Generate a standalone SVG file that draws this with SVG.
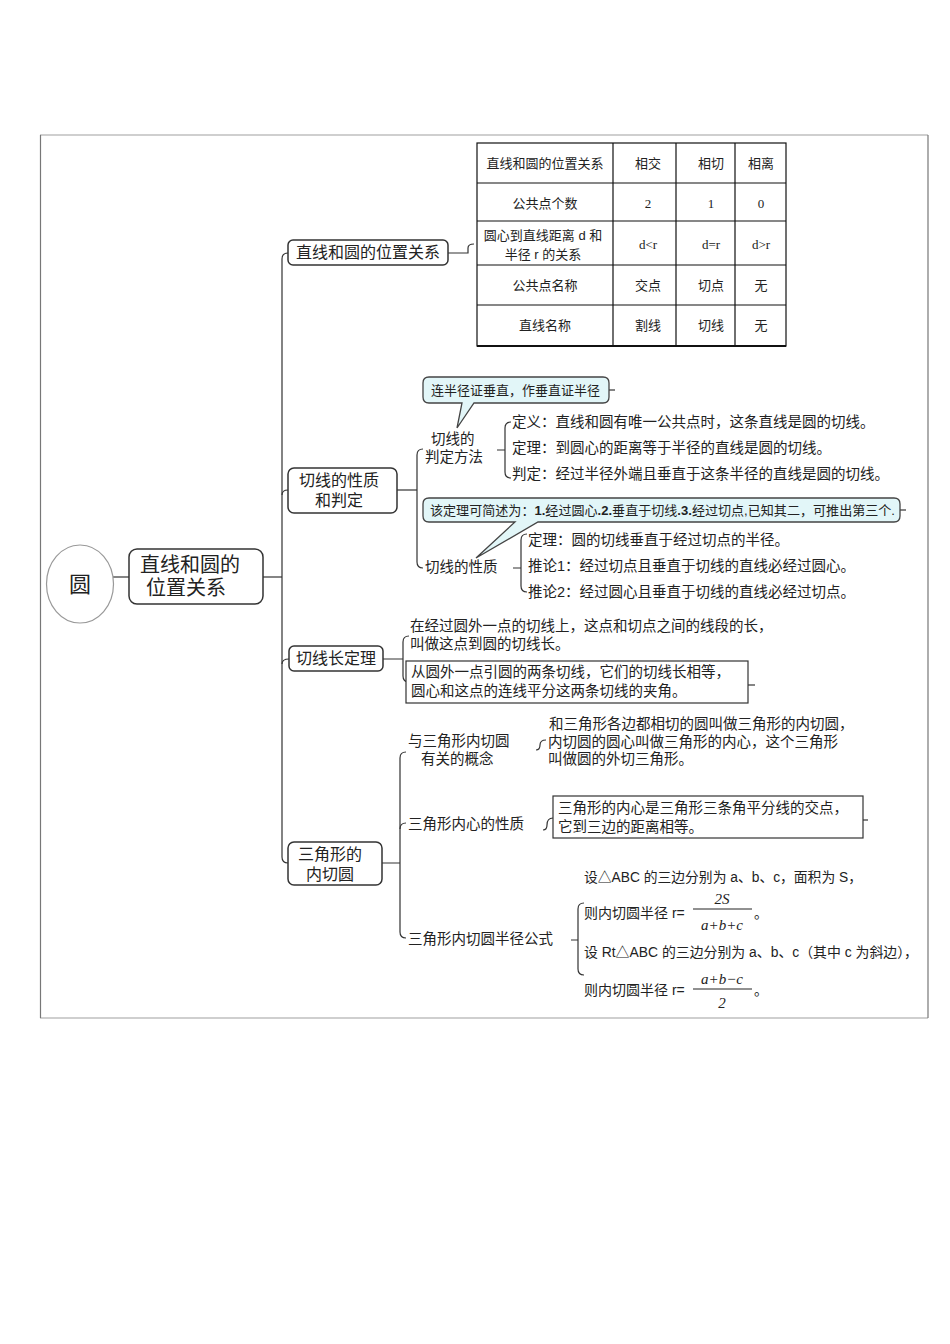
<svg xmlns="http://www.w3.org/2000/svg" width="950" height="1344" viewBox="0 0 950 1344">
<defs>
<style>
text{font-family:"Liberation Sans","Noto Sans CJK SC",sans-serif;fill:#222;}
.t{font-size:14.5px;}
.n{font-size:16px;}
.tb{font-size:13px;}
.tbs{font-size:13px;font-family:"Liberation Serif","Noto Sans CJK SC",serif;}
.f{font-size:14px;}
.fi{font-size:15px;font-family:"Liberation Serif",serif;font-style:italic;}
.box{fill:#fff;stroke:#333;stroke-width:1.5;}
.call{fill:#e2f6f8;stroke:#444;stroke-width:1.3;}
.plain{fill:#fff;stroke:#333;stroke-width:1.2;}
.ln{fill:none;stroke:#333;stroke-width:1.2;}
.grid{fill:none;stroke:#111;stroke-width:1.2;}
</style>
</defs>
<rect width="950" height="1344" fill="#fff"/>
<!-- frame -->
<line x1="40" y1="135" x2="928" y2="135" stroke="#cfcfcf" stroke-width="2"/>
<line x1="40" y1="1018" x2="928" y2="1018" stroke="#cfcfcf" stroke-width="2"/>
<line x1="40.5" y1="135" x2="40.5" y2="1018" stroke="#777" stroke-width="1.2"/>
<line x1="928" y1="135" x2="928" y2="1018" stroke="#777" stroke-width="1.2"/>

<g id="connectors">
<path class="ln" d="M113,577 L129,577"/>
<path class="ln" d="M263,577 L282,577"/>
<path class="ln" d="M288,253 Q282,253 282,259 L282,857 Q282,863 288,863"/>
<path class="ln" d="M282,495 Q282,490 288,490"/>
<path class="ln" d="M282,664 Q282,659 289,659"/>
<path class="ln" d="M448,253 L468,253 L468,248 Q468,244 474,244"/>
<path class="ln" d="M397,490 L417,490"/>
<path class="ln" d="M423,449 Q417,449 417,455 L417,562 Q417,568 423,568"/>
<path class="ln" d="M609,390 L615,390"/>
<path class="ln" d="M900,510 L906,510"/>
<path class="ln" d="M511,422 Q505,422 505,428 L505,472 Q505,478 511,478 M497,450 L505,450"/>
<path class="ln" d="M527,534 Q521,534 521,540 L521,586 Q521,592 527,592 M513,568 L521,568"/>
<path class="ln" d="M383,659 L403,659 M409,636 Q403,636 403,642 L403,676 Q403,682 409,682"/>
<path class="ln" d="M748,685 L755,685"/>
<path class="ln" d="M382,863 L400,863 M406,752 Q400,752 400,758 L400,932 Q400,938 406,938"/>
<path class="ln" d="M400,829 Q400,823 406,823"/>
<path class="ln" d="M536,750 Q540,750 540,745 Q540,740 546,740"/>
<path class="ln" d="M543,830 Q547,830 547,825 Q547,818 553,818"/>
<path class="ln" d="M863,820 L868,820"/>
<path class="ln" d="M584,903 Q578,903 578,909 L578,969 Q578,975 584,975 M571,940 L578,940"/>
</g>

<g id="root">
<ellipse cx="80" cy="584" rx="33.5" ry="39" fill="#fff" stroke="#999" stroke-width="1.2"/>
<text x="80" y="592" font-size="22" text-anchor="middle">圆</text>
</g>

<g id="main">
<rect class="box" x="129" y="549" width="134" height="55" rx="8"/>
<text font-size="20" text-anchor="middle"><tspan x="190" y="572">直线和圆的</tspan><tspan x="186" y="595">位置关系</tspan></text>
</g>

<g id="n1">
<rect class="box" x="288" y="240" width="160" height="25" rx="5"/>
<text class="n" x="368" y="258" text-anchor="middle">直线和圆的位置关系</text>
</g>

<g id="table">
<rect class="grid" x="477" y="143" width="309" height="203"/>
<path class="grid" d="M477,183 H786 M477,221 H786 M477,265 H786 M477,305 H786 M613,143 V346 M676,143 V346 M735,143 V346"/>
<line x1="477" y1="346" x2="786" y2="346" stroke="#111" stroke-width="2"/>
<g text-anchor="middle">
<text class="tb" x="545" y="168">直线和圆的位置关系</text>
<text class="tb" x="648" y="168">相交</text>
<text class="tb" x="711" y="168">相切</text>
<text class="tb" x="761" y="168">相离</text>
<text class="tb" x="545" y="208">公共点个数</text>
<text class="tbs" x="648" y="208">2</text>
<text class="tbs" x="711" y="208">1</text>
<text class="tbs" x="761" y="208">0</text>
<text class="tb"><tspan x="543" y="240">圆心到直线距离 d 和</tspan><tspan x="543" y="259">半径 r 的关系</tspan></text>
<text class="tbs" x="648" y="249">d&lt;r</text>
<text class="tbs" x="711" y="249">d=r</text>
<text class="tbs" x="761" y="249">d&gt;r</text>
<text class="tb" x="545" y="290">公共点名称</text>
<text class="tb" x="648" y="290">交点</text>
<text class="tb" x="711" y="290">切点</text>
<text class="tb" x="761" y="290">无</text>
<text class="tb" x="545" y="330">直线名称</text>
<text class="tb" x="648" y="330">割线</text>
<text class="tb" x="711" y="330">切线</text>
<text class="tb" x="761" y="330">无</text>
</g>
</g>

<g id="n2">
<rect class="box" x="288" y="468" width="109" height="45" rx="6"/>
<text class="n" text-anchor="middle"><tspan x="339" y="486">切线的性质</tspan><tspan x="339" y="506">和判定</tspan></text>
</g>

<g id="n2a">
<text class="t"><tspan x="431" y="444">切线的</tspan><tspan x="425" y="462">判定方法</tspan></text>
</g>
<g id="callout1">
<path class="call" d="M429,377 H603 Q609,377 609,383 V397 Q609,403 603,403 H474 L457,428 L462,403 H429 Q423,403 423,397 V383 Q423,377 429,377 Z"/>
<text x="431" y="395" font-size="13">连半径证垂直，作垂直证半径</text>
</g>
<g id="n2a-items">
<text class="t"><tspan x="512" y="427">定义：直线和圆有唯一公共点时，这条直线是圆的切线。</tspan><tspan x="512" y="453">定理：到圆心的距离等于半径的直线是圆的切线。</tspan><tspan x="512" y="479">判定：经过半径外端且垂直于这条半径的直线是圆的切线。</tspan></text>
</g>

<g id="callout2">
<path class="call" d="M429,498 H894 Q900,498 900,504 V516 Q900,522 894,522 H538 L476,558 L515,522 H429 Q423,522 423,516 V504 Q423,498 429,498 Z"/>
<text x="430" y="515" font-size="13" textLength="465" lengthAdjust="spacingAndGlyphs">该定理可简述为：<tspan font-weight="bold">1.</tspan>经过圆心<tspan font-weight="bold">.2.</tspan>垂直于切线<tspan font-weight="bold">.3.</tspan>经过切点,已知其二，可推出第三个.</text>
</g>
<g id="n2b">
<text class="t" x="425" y="572">切线的性质</text>
</g>
<g id="n2b-items">
<text class="t"><tspan x="528" y="545">定理：圆的切线垂直于经过切点的半径。</tspan><tspan x="528" y="571">推论1：经过切点且垂直于切线的直线必经过圆心。</tspan><tspan x="528" y="597">推论2：经过圆心且垂直于切线的直线必经过切点。</tspan></text>
</g>

<g id="n3">
<rect class="box" x="289" y="646" width="94" height="25" rx="5"/>
<text class="n" x="336" y="664" text-anchor="middle">切线长定理</text>
</g>
<g id="n3-def">
<text class="t"><tspan x="410" y="631">在经过圆外一点的切线上，这点和切点之间的线段的长，</tspan><tspan x="410" y="649">叫做这点到圆的切线长。</tspan></text>
</g>
<g id="n3-thm">
<rect class="plain" x="406" y="661" width="342" height="42"/>
<text class="t"><tspan x="411" y="677">从圆外一点引圆的两条切线，它们的切线长相等，</tspan><tspan x="411" y="696">圆心和这点的连线平分这两条切线的夹角。</tspan></text>
</g>

<g id="n4">
<rect class="box" x="288" y="842" width="94" height="43" rx="6"/>
<text class="n" text-anchor="middle"><tspan x="330" y="860">三角形的</tspan><tspan x="330" y="880">内切圆</tspan></text>
</g>
<g id="n4a">
<text class="t"><tspan x="408" y="746">与三角形内切圆</tspan><tspan x="421" y="764">有关的概念</tspan></text>
</g>
<g id="n4a-text">
<text class="t"><tspan x="549" y="729">和三角形各边都相切的圆叫做三角形的内切圆，</tspan><tspan x="548" y="747">内切圆的圆心叫做三角形的内心，这个三角形</tspan><tspan x="548" y="764">叫做圆的外切三角形。</tspan></text>
</g>
<g id="n4b">
<text class="t" x="408" y="829">三角形内心的性质</text>
</g>
<g id="n4b-box">
<rect class="plain" x="553" y="796" width="310" height="42"/>
<text class="t"><tspan x="558" y="813">三角形的内心是三角形三条角平分线的交点，</tspan><tspan x="558" y="832">它到三边的距离相等。</tspan></text>
</g>
<g id="n4c">
<text class="t" x="408" y="944">三角形内切圆半径公式</text>
</g>
<g id="n4c-formula">
<text class="f" x="584" y="882" textLength="278" lengthAdjust="spacingAndGlyphs">设△ABC 的三边分别为 a、b、c，面积为 S，</text>
<text class="f" x="584" y="918">则内切圆半径 r=</text>
<text class="fi" x="722" y="904" text-anchor="middle">2S</text>
<line x1="693" y1="909" x2="752" y2="909" stroke="#222" stroke-width="1"/>
<text class="fi" x="722" y="930" text-anchor="middle">a+b+c</text>
<text class="f" x="754" y="918">。</text>
<text class="f" x="584" y="957" textLength="334" lengthAdjust="spacingAndGlyphs">设 Rt△ABC 的三边分别为 a、b、c（其中 c 为斜边），</text>
<text class="f" x="584" y="995">则内切圆半径 r=</text>
<text class="fi" x="722" y="984" text-anchor="middle">a+b−c</text>
<line x1="693" y1="989" x2="752" y2="989" stroke="#222" stroke-width="1"/>
<text class="fi" x="722" y="1008" text-anchor="middle">2</text>
<text class="f" x="754" y="995">。</text>
</g>
</svg>
